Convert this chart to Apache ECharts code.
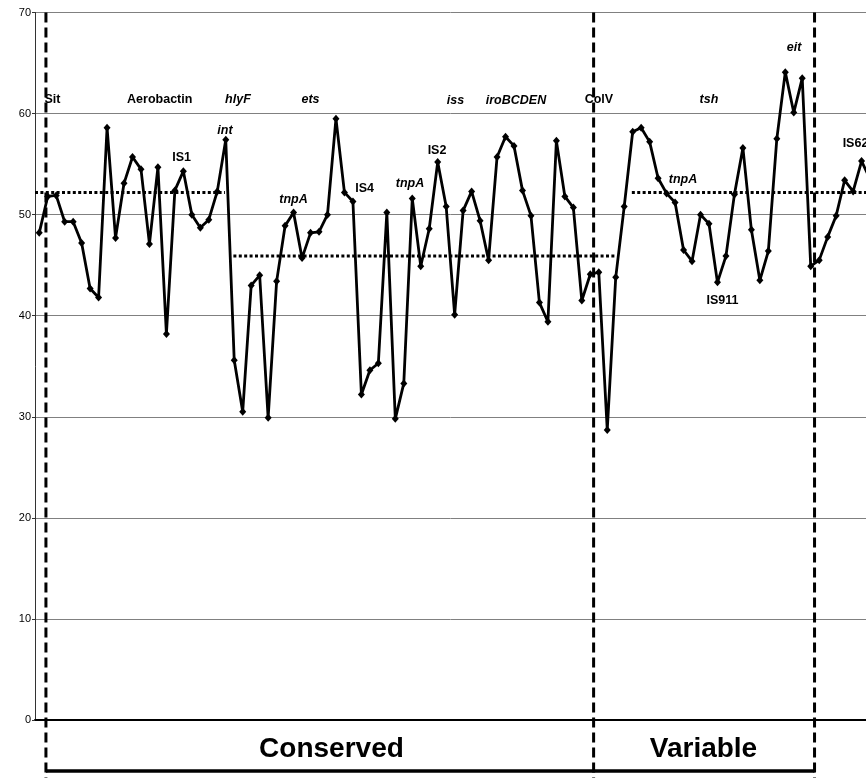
<!DOCTYPE html>
<html><head><meta charset="utf-8">
<script src="https://cdn.jsdelivr.net/npm/echarts@6/dist/echarts.min.js"></script>
<style>html,body{margin:0;padding:0;background:#fff}#c{width:866px;height:778px}</style>
</head><body><div id="c"></div>
<script>
// Series values (one per position along the genome, left to right)
const values = [
  48.2, 51.8, 51.9, 49.3, 49.3, 47.2, 42.7, 41.8, 58.6, 47.7,
  53.1, 55.7, 54.5, 47.1, 54.7, 38.2, 52.4, 54.3, 50.0, 48.7,
  49.5, 52.3, 57.4, 35.6, 30.5, 43.0, 44.0, 29.9, 43.4, 48.9,
  50.2, 45.7, 48.2, 48.3, 50.0, 59.5, 52.2, 51.3, 32.2, 34.6,
  35.3, 50.2, 29.8, 33.3, 51.6, 44.9, 48.6, 55.2, 50.8, 40.1,
  50.4, 52.3, 49.4, 45.5, 55.7, 57.7, 56.8, 52.4, 49.9, 41.3,
  39.4, 57.3, 51.8, 50.7, 41.5, 44.1, 44.3, 28.7, 43.8, 50.8,
  58.2, 58.6, 57.2, 53.6, 52.1, 51.2, 46.5, 45.4, 50.0, 49.1,
  43.3, 45.9, 52.0, 56.6, 48.5, 43.5, 46.4, 57.5, 64.1, 60.1,
  63.5, 44.9, 45.5, 47.8, 49.9, 53.4, 52.3, 55.3, 53.5
];
// Axes: y ticks, and the visible x range (chart is cropped at the right edge)
const yMin = 0, yMax = 70, yStep = 10;
const xMin = -0.5, xMaxVisible = 97.52;
// Segment mean levels (dotted lines)
const meanStarts = [-0.5, 22.9, 69.9];
const meanEnds   = [21.9, 67.9, 99];
const meanValues = [52.2, 45.9, 52.2];
// Region dividers (dashed verticals), in position units
const dividers = [0.79, 65.39, 91.45];
// Region labels
const regionNames = ['Conserved', 'Variable'];
const regionCenters = [34.47, 78.35];
// Gene / element annotations
const annNames  = ['Sit','Aerobactin','hlyF','int','IS1','tnpA','ets','IS4','tnpA','IS2','iss','iroBCDEN','ColV','tsh','tnpA','eit','IS911','IS62'];
const annX      = [1.56, 14.21, 23.44, 21.91, 16.80, 29.99, 32.00, 38.37, 43.73, 46.92, 49.10, 56.23, 66.02, 79.00, 75.93, 89.03, 80.59, 96.28];
const annY      = [61.39, 61.39, 61.39, 58.36, 55.69, 51.48, 61.42, 52.57, 53.07, 56.31, 61.33, 61.33, 61.42, 61.42, 53.48, 66.50, 41.54, 57.04];
const annItalic = [false, false, true, true, false, true, true, false, true, false, true, true, false, true, true, true, false, false];

const FONT = '"Liberation Sans", Arial, Helvetica, sans-serif';
const chart = echarts.init(document.getElementById('c'), null, {renderer: 'canvas'});

const series = [];
for (let i = 0; i < meanValues.length; i++) {
  series.push({
    type: 'line', silent: true, showSymbol: false, symbol: 'none', animation: false, z: 2, clip: true,
    data: [[meanStarts[i], meanValues[i]], [meanEnds[i], meanValues[i]]],
    lineStyle: {color: '#000', width: 3, type: [3, 2.4], cap: 'butt'}
  });
}
series.push({
  type: 'line', animation: false, z: 5, clip: true,
  data: values.map((v, i) => [i, v]),
  symbol: 'diamond', symbolSize: [7, 8], showSymbol: true,
  itemStyle: {color: '#000'},
  lineStyle: {color: '#000', width: 2.8}
});

chart.setOption({
  animation: false,
  backgroundColor: '#fff',
  grid: {left: 35, top: 12.5, right: 0, bottom: 58, containLabel: false},
  xAxis: {
    type: 'value', min: xMin, max: xMaxVisible,
    axisLine: {show: true, onZero: false, lineStyle: {color: '#000', width: 2}},
    axisTick: {show: false}, axisLabel: {show: false}, splitLine: {show: false}
  },
  yAxis: {
    type: 'value', min: yMin, max: yMax, interval: yStep,
    axisLine: {show: true, onZero: false, lineStyle: {color: '#333', width: 1}},
    axisTick: {show: true, length: 3, lineStyle: {color: '#333'}},
    axisLabel: {color: '#000', fontSize: 11, fontFamily: FONT, margin: 4},
    splitLine: {show: true, lineStyle: {color: '#808080', width: 1}}
  },
  series: series
});

const P = (x, y) => chart.convertToPixel({gridIndex: 0}, [x, y]);
const graphics = [];
const yTop = P(0, yMax)[1];
const y0 = P(0, 0)[1];
dividers.forEach(d => {
  const x = P(d, 0)[0];
  graphics.push({type: 'line', z: 10, silent: true,
    shape: {x1: x, y1: yTop, x2: x, y2: 778},
    style: {stroke: '#000', lineWidth: 3, lineDash: [10, 5]}});
});
const bx1 = P(dividers[0], 0)[0], bx2 = P(dividers[dividers.length - 1], 0)[0];
graphics.push({type: 'line', z: 10, silent: true,
  shape: {x1: bx1, y1: y0 + 51, x2: bx2, y2: y0 + 51},
  style: {stroke: '#000', lineWidth: 3.5}});
regionNames.forEach((n, i) => {
  graphics.push({type: 'text', z: 10, silent: true,
    x: P(regionCenters[i], 0)[0], y: y0 + 29,
    style: {text: n, fill: '#000', fontSize: 28, fontWeight: 'bold', fontFamily: FONT,
      align: 'center', verticalAlign: 'middle'}});
});
annNames.forEach((n, i) => {
  const p = P(annX[i], annY[i]);
  graphics.push({type: 'text', z: 10, silent: true, x: p[0], y: p[1],
    style: {text: n, fill: '#000', fontSize: 12.5, fontWeight: 'bold',
      fontStyle: annItalic[i] ? 'italic' : 'normal', fontFamily: FONT,
      align: 'center', verticalAlign: 'middle'}});
});
chart.setOption({graphic: graphics});
</script>
</body></html>
